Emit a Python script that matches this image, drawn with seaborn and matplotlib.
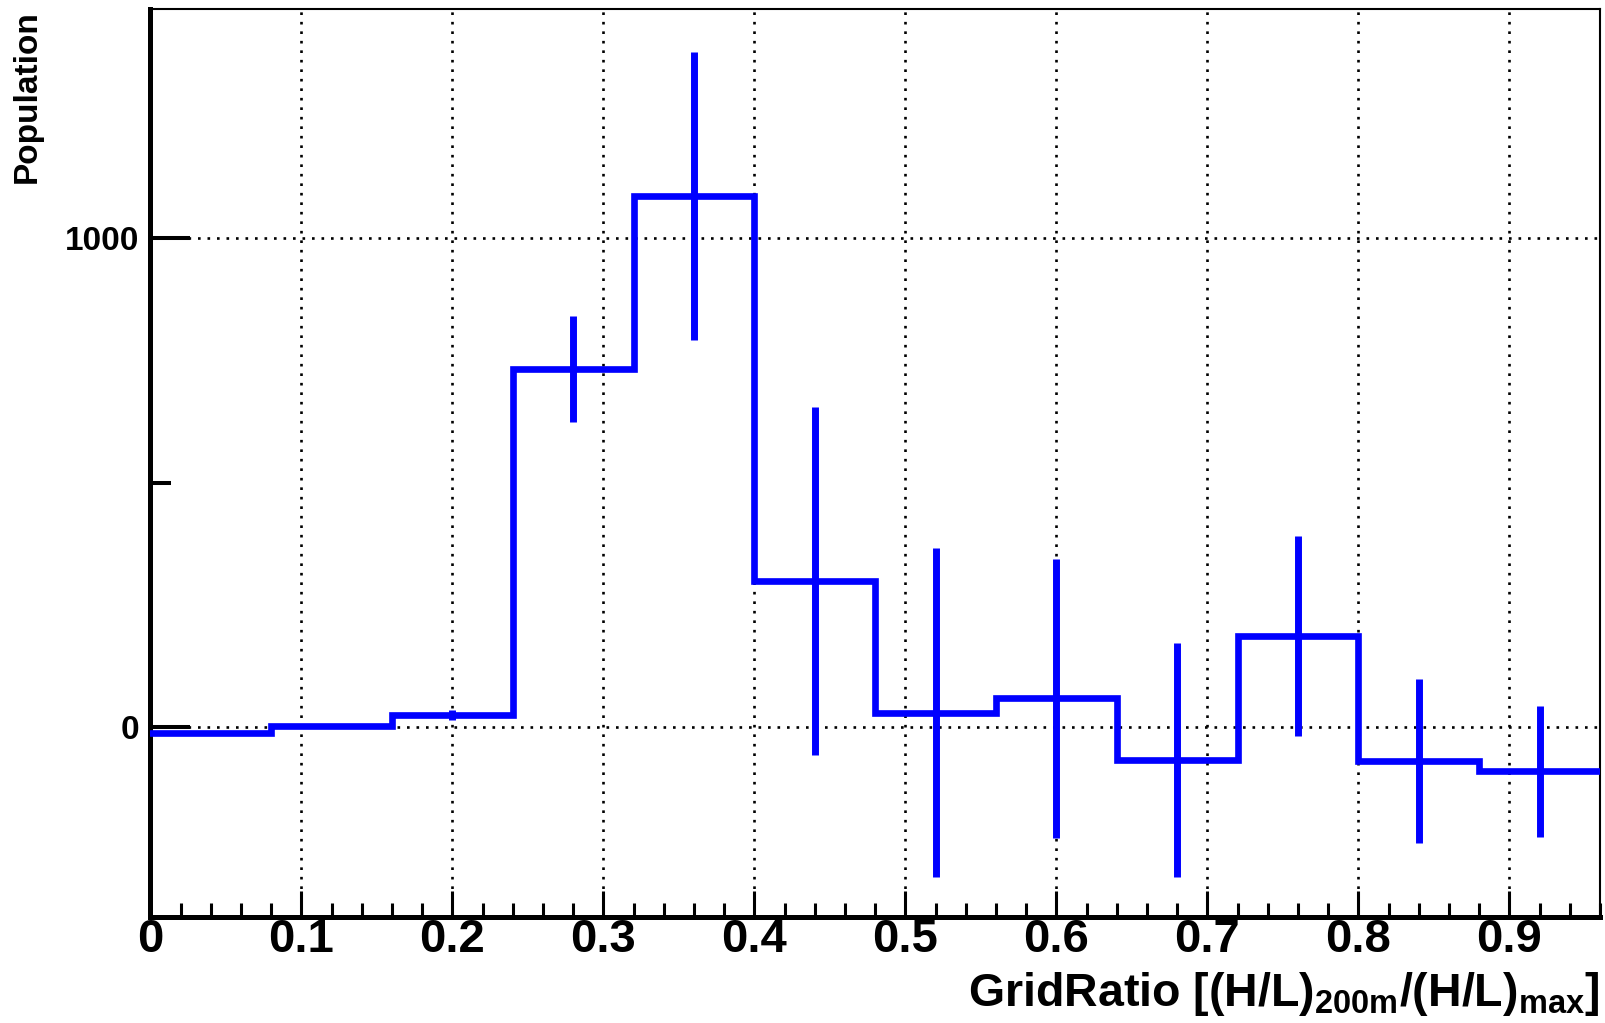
import numpy as np
import pandas as pd
import matplotlib
matplotlib.use("Agg")
import matplotlib.pyplot as plt
import seaborn as sns
from matplotlib.ticker import MultipleLocator, FixedLocator

# Histogram content: 12 bins of width 0.08 in GridRatio
bin_edges = [0.00, 0.08, 0.16, 0.24, 0.32, 0.40, 0.48, 0.56, 0.64, 0.72, 0.80, 0.88, 0.96]
population = [-13, 2, 24, 733, 1087, 299, 29, 58, -68, 186, -70, -91]
population_err = [0, 0, 10, 109, 295, 356, 336, 286, 240, 205, 168, 134]

x_tick_values = [0.0, 0.1, 0.2, 0.3, 0.4, 0.5, 0.6, 0.7, 0.8, 0.9]
x_tick_labels = ["0", "0.1", "0.2", "0.3", "0.4", "0.5", "0.6", "0.7", "0.8", "0.9"]
y_tick_values = [0, 1000]
y_tick_labels = ["0", "1000"]
y_minor_values = [500]

x_title = r"GridRatio [(H/L)$_{\mathrm{200m}}$/(H/L)$_{\mathrm{max}}$]"
y_title = "Population"

sns.set_style("ticks")
plt.rcParams["font.family"] = ["Liberation Sans", "DejaVu Sans"]
plt.rcParams["font.weight"] = "bold"
plt.rcParams["text.color"] = "black"
plt.rcParams["xtick.color"] = "black"
plt.rcParams["ytick.color"] = "black"
plt.rcParams["xtick.labelcolor"] = "black"
plt.rcParams["ytick.labelcolor"] = "black"
plt.rcParams["mathtext.fontset"] = "custom"
plt.rcParams["mathtext.rm"] = "Liberation Sans:bold"
plt.rcParams["mathtext.it"] = "Liberation Sans:bold"
plt.rcParams["mathtext.bf"] = "Liberation Sans:bold"

W, H = 1606, 1023
fig = plt.figure(figsize=(W / 100, H / 100), dpi=100)
left, right, top, bottom = 150.5, 1600.0, 9.0, 916.6
ax = fig.add_axes([left / W, 1 - bottom / H, (right - left) / W, (bottom - top) / H])

edges = np.array(bin_edges)
centers = 0.5 * (edges[:-1] + edges[1:])
df = pd.DataFrame({"ratio": centers, "population": population, "err": population_err})

blue = "#0000ff"
sns.histplot(data=df, x="ratio", weights="population", bins=bin_edges,
             element="step", fill=False, color=blue, linewidth=4.8,
             solid_joinstyle="miter", ax=ax, zorder=3)
ax.errorbar(df["ratio"], df["population"], yerr=df["err"], fmt="none",
            ecolor=blue, elinewidth=5.0, capsize=0, zorder=3)

ax.set_xlim(0, 0.96)
ax.set_ylim(-389, 1470)

ax.set_xticks(x_tick_values, x_tick_labels)
ax.xaxis.set_minor_locator(MultipleLocator(0.02))
ax.set_yticks(y_tick_values, y_tick_labels)
ax.yaxis.set_minor_locator(FixedLocator(y_minor_values))

ax.tick_params(axis="x", which="major", direction="in", length=19, width=2.2,
               labelsize=34, pad=1, color="black", labelcolor="black")
ax.tick_params(axis="x", which="minor", direction="in", length=10, width=2.2, color="black")
ax.tick_params(axis="y", which="major", direction="in", length=29, width=2.9,
               labelsize=24, pad=8, color="black", labelcolor="black")
ax.tick_params(axis="y", which="minor", direction="in", length=15, width=2.9, color="black")
for lab in ax.get_xticklabels() + ax.get_yticklabels():
    lab.set_fontweight("bold")

ax.grid(True, which="major", color="black", linestyle=(0, (1, 2.6)), linewidth=1.9, zorder=1)
ax.set_axisbelow(True)

for side in ["left", "bottom"]:
    ax.spines[side].set_linewidth(3.6)
    ax.spines[side].set_color("black")
for side in ["top", "right"]:
    ax.spines[side].set_linewidth(1.5)
    ax.spines[side].set_color("black")
    ax.spines[side].set_visible(True)

ax.set_xlabel("")
ax.set_ylabel("")
fig.text(right / W, 17 / H, x_title, ha="right", va="baseline",
         fontsize=33.5, fontweight="bold", color="black")
fig.text(27 / W, 1 - 10 / H, y_title, rotation=90, ha="center", va="top",
         fontsize=24, fontweight="bold", color="black")

fig.savefig("out.png", dpi=100, facecolor="white")
